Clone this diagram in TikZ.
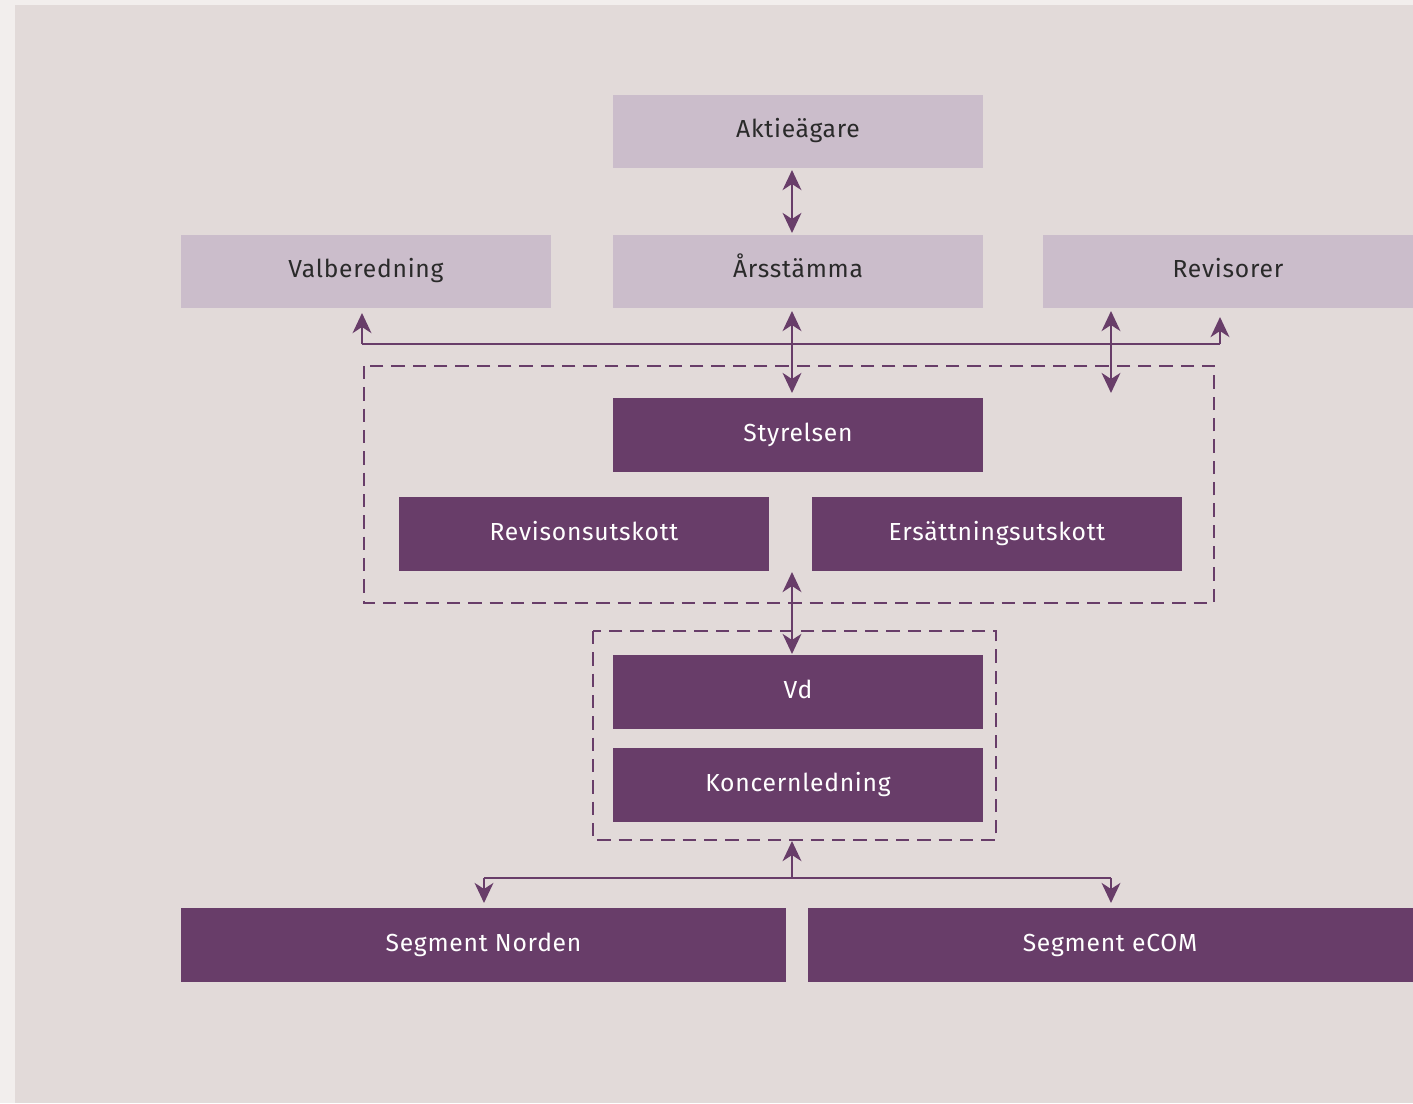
\documentclass[tikz,border=0pt]{standalone}
\usepackage{fontspec}
\setmainfont{Fira Sans}
\usetikzlibrary{arrows.meta}
\definecolor{outerbg}{HTML}{F2EEED}
\definecolor{innerbg}{HTML}{E2DAD9}
\definecolor{lightbox}{HTML}{CBBDCB}
\definecolor{darkbox}{HTML}{683D69}
\definecolor{txtdark}{HTML}{2A2A2A}
\begin{document}
\begin{tikzpicture}[x=0.75pt,y=-0.75pt,
  box/.style={rectangle,inner sep=0pt,minimum width=277.5pt,minimum height=55pt,text height=13pt,text depth=4pt,font=\fontsize{18.5}{22}\selectfont\addfontfeature{LetterSpace=3}},
  lbox/.style={box,fill=lightbox,text=txtdark},
  dbox/.style={box,fill=darkbox,text=white},
  tip/.style={Stealth[length=15pt,width=14pt,inset=4.5pt]},
  arr/.style={draw=darkbox,line width=2.2pt,{Stealth[length=15pt,width=14pt,inset=4.5pt]}-{Stealth[length=15pt,width=14pt,inset=4.5pt]}},
  arrone/.style={draw=darkbox,line width=2.2pt,-{Stealth[length=15pt,width=14pt,inset=4.5pt]}},
  ln/.style={draw=darkbox,line width=2.2pt},
  dsh/.style={draw=darkbox,line width=2.2pt,dash pattern=on 10pt off 6pt}]
\useasboundingbox (0,0) rectangle (1413,1103);
\fill[outerbg] (0,0) rectangle (1413,1103);
\fill[innerbg] (15,5) rectangle (1413,1103);
% dashed group frames
\draw[dsh] (364,366) rectangle (1214,603);
\draw[dsh] (593,631) rectangle (996,840);
% boxes
\node[lbox] (akt) at (798,131.5) {Aktieägare};
\node[lbox] (val) at (366,271.5) {Valberedning};
\node[lbox] (ars) at (798,271.5) {Årsstämma};
\node[lbox] (rev) at (1228,271.5) {Revisorer};
\node[dbox] (sty) at (798,435) {Styrelsen};
\node[dbox] (rut) at (584,534) {Revisonsutskott};
\node[dbox] (ers) at (997,534) {Ersättningsutskott};
\node[dbox] (vd) at (798,692) {Vd};
\node[dbox] (kon) at (798,785) {Koncernledning};
\node[dbox,minimum width=453.75pt] (nor) at (483.5,945) {Segment Norden};
\node[dbox,minimum width=453.75pt] (ecom) at (1110,945) {Segment eCOM};
% connector coordinates
\coordinate (a1) at (792,170);
\coordinate (a2) at (792,233);
\coordinate (b1) at (792,311);
\coordinate (b2) at (792,393);
\coordinate (r1) at (1111,311);
\coordinate (r2) at (1111,393);
\coordinate (hl) at (362,344);
\coordinate (hr) at (1220,344);
\coordinate (vl) at (362,313);
\coordinate (vr) at (1220,317);
\coordinate (c1) at (792,572);
\coordinate (c2) at (792,654);
\coordinate (d0) at (792,878);
\coordinate (d1) at (792,841);
\coordinate (dl) at (484,878);
\coordinate (dr) at (1111,878);
\coordinate (dlt) at (484,903);
\coordinate (drt) at (1111,903);
% connectors
\draw[arr] (a1) -- (a2);
\draw[ln] (hl) -- (hr);
\draw[arrone] (hl) -- (vl);
\draw[arrone] (hr) -- (vr);
\draw[arr] (b1) -- (b2);
\draw[arr] (r1) -- (r2);
\draw[arr] (c1) -- (c2);
\draw[arrone] (d0) -- (d1);
\draw[ln] (dl) -- (dr);
\draw[arrone] (dl) -- (dlt);
\draw[arrone] (dr) -- (drt);
\end{tikzpicture}
\end{document}
